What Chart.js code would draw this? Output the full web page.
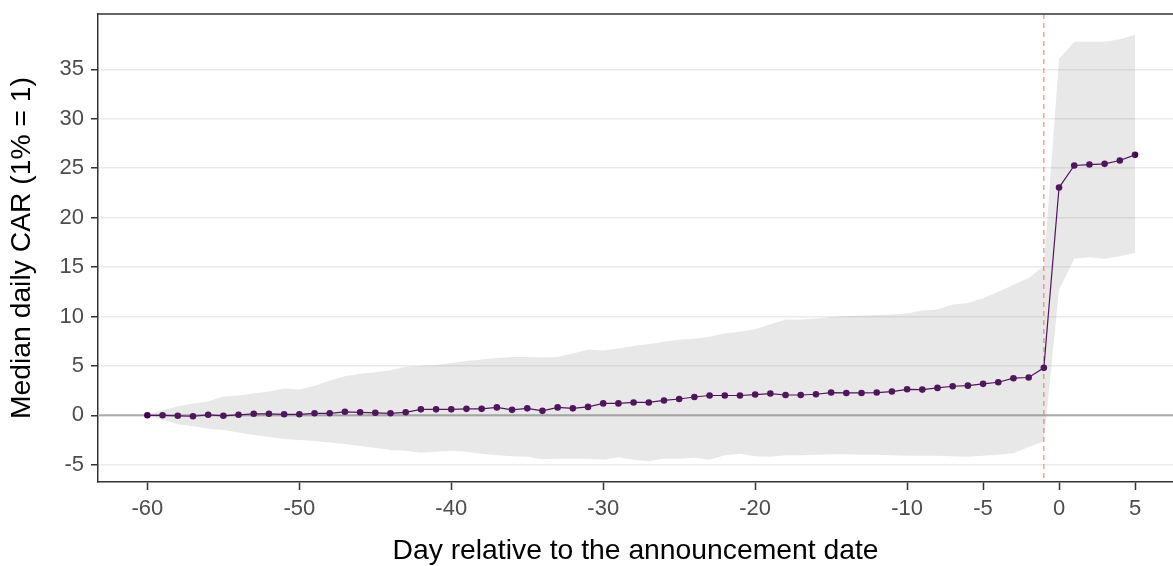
<!DOCTYPE html>
<html>
<head>
<meta charset="utf-8">
<script src="https://cdn.jsdelivr.net/npm/chart.js@4"></script>
<style>
  html, body { margin: 0; padding: 0; background: #ffffff; overflow: hidden; }
  #wrap { width: 1173px; height: 566px; }
</style>
</head>
<body>
<div id="wrap"><canvas id="car_chart"></canvas></div>
<script>
// days relative to the announcement date
const days = [-60, -59, -58, -57, -56, -55, -54, -53, -52, -51, -50, -49, -48, -47, -46, -45, -44, -43, -42, -41, -40,
    -39, -38, -37, -36, -35, -34, -33, -32, -31, -30, -29, -28, -27, -26, -25, -24, -23, -22, -21, -20, -19, -18,
    -17, -16, -15, -14, -13, -12, -11, -10, -9, -8, -7, -6, -5, -4, -3, -2, -1,
    0, 1, 2, 3, 4, 5];

const medianCar = [0, 0, -0.05, -0.1, 0.05, -0.05, 0.05, 0.15, 0.15, 0.1, 0.1, 0.2, 0.2, 0.35, 0.3, 0.25, 0.2, 0.3, 0.6, 0.6, 0.6,
    0.65, 0.65, 0.8, 0.55, 0.7, 0.45, 0.8, 0.7, 0.85, 1.2, 1.2, 1.3, 1.3, 1.5, 1.65, 1.85, 2.0, 2.0, 2.0, 2.1, 2.2, 2.05,
    2.05, 2.13, 2.3, 2.26, 2.26, 2.3, 2.4, 2.63, 2.6, 2.77, 2.94, 3.0, 3.18, 3.34, 3.75, 3.82, 4.8,
    23.04, 25.27, 25.37, 25.44, 25.78, 26.35];

const upperCar = [0.05, 0.5, 0.9, 1.2, 1.4, 1.9, 2.0, 2.2, 2.4, 2.7, 2.6, 3.0, 3.5, 3.95, 4.2, 4.35, 4.55, 4.9, 5.0, 5.1, 5.3,
    5.5, 5.65, 5.8, 5.9, 5.9, 5.85, 5.9, 6.25, 6.65, 6.55, 6.75, 7.0, 7.2, 7.45, 7.65, 7.75, 7.95, 8.3, 8.45, 8.7, 9.2, 9.7,
    9.7, 9.8, 9.95, 10.05, 10.1, 10.15, 10.2, 10.3, 10.6, 10.7, 11.2, 11.35, 11.85, 12.5, 13.2, 13.9, 15.1,
    36.05, 37.8, 37.8, 37.8, 38.05, 38.5];

const lowerCar = [0, -0.45, -0.9, -1.1, -1.35, -1.5, -1.75, -2.0, -2.2, -2.4, -2.5, -2.6, -2.75, -2.9, -3.1, -3.3, -3.5, -3.6, -3.8, -3.7, -3.6,
    -3.7, -3.9, -4.05, -4.15, -4.2, -4.45, -4.4, -4.4, -4.4, -4.5, -4.25, -4.5, -4.65, -4.4, -4.4, -4.3, -4.5, -4.05, -3.9, -4.15, -4.2, -4.05,
    -4.05, -4.0, -3.95, -3.95, -4.0, -4.0, -4.05, -4.1, -4.1, -4.1, -4.15, -4.2, -4.1, -4.0, -3.85, -3.2, -2.65,
    12.7, 15.85, 16.0, 15.85, 16.1, 16.45];

const xTicks = [-60, -50, -40, -30, -20, -10, -5, 0, 5];
const yTicks = [-5, 0, 5, 10, 15, 20, 25, 30, 35];

const eventDay = -1;
const baseline = 0;

const toPoints = (values) => days.map((d, i) => ({ x: d, y: values[i] }));

const referenceLines = {
    id: 'referenceLines',
    beforeDatasetDraw: function (chart, args) {
        if (args.index !== 2) return;
        const { ctx, chartArea, scales } = chart;
        ctx.save();
        // zero line
        const y0 = scales.y.getPixelForValue(baseline);
        ctx.strokeStyle = '#ababab';
        ctx.lineWidth = 2;
        ctx.beginPath();
        ctx.moveTo(chartArea.left, y0);
        ctx.lineTo(chartArea.right, y0);
        ctx.stroke();
        // announcement line
        const x0 = scales.x.getPixelForValue(eventDay);
        ctx.strokeStyle = '#f4948b';
        ctx.lineWidth = 1.3;
        ctx.setLineDash([5, 4]);
        ctx.beginPath();
        ctx.moveTo(x0, chartArea.top);
        ctx.lineTo(x0, chartArea.bottom);
        ctx.stroke();
        ctx.restore();
    }
};

const panelTop = {
    id: 'panelTop',
    afterDatasetsDraw: function (chart) {
        const { ctx, chartArea } = chart;
        ctx.save();
        ctx.strokeStyle = '#333333';
        ctx.lineWidth = 1.5;
        ctx.beginPath();
        ctx.moveTo(chartArea.left, chartArea.top);
        ctx.lineTo(chartArea.right, chartArea.top);
        ctx.stroke();
        ctx.restore();
    }
};

const tickFont = { family: 'Liberation Sans, Arial, sans-serif', size: 22 };
const titleFont = { family: 'Liberation Sans, Arial, sans-serif', size: 28.3 };

new Chart(document.getElementById('car_chart').getContext('2d'), {
    type: 'line',
    data: {
        datasets: [{
            data: toPoints(upperCar),
            borderWidth: 0,
            pointRadius: 0,
            fill: '+1',
            backgroundColor: 'rgba(128,128,128,0.18)',
            tension: 0
        }, {
            data: toPoints(lowerCar),
            borderWidth: 0,
            pointRadius: 0,
            fill: false,
            tension: 0
        }, {
            data: toPoints(medianCar),
            borderColor: '#440154',
            borderWidth: 1.2,
            pointRadius: 3.3,
            pointBackgroundColor: '#440154',
            pointBorderWidth: 0,
            fill: false,
            tension: 0
        }]
    },
    options: {
        animation: false,
        responsive: true,
        maintainAspectRatio: false,
        layout: {
            autoPadding: false,
            padding: { left: 0, right: 0, top: 14, bottom: 0 }
        },
        plugins: {
            legend: { display: false },
            tooltip: { enabled: false }
        },
        scales: {
            x: {
                type: 'linear',
                min: -63.25,
                max: 7.5,
                afterBuildTicks: (scale) => { scale.ticks = xTicks.map(v => ({ value: v })); },
                afterFit: (scale) => {
                    scale.height = 84;
                    scale.paddingLeft = 0;
                    scale.paddingRight = 0;
                },
                grid: {
                    drawOnChartArea: false,
                    tickLength: 8,
                    tickColor: '#333333',
                    tickWidth: 1.5
                },
                border: { color: '#333333', width: 1.5 },
                ticks: {
                    color: '#4d4d4d',
                    font: tickFont,
                    padding: 6,
                    maxRotation: 0,
                    autoSkip: false
                },
                title: {
                    display: true,
                    text: 'Day relative to the announcement date',
                    color: '#000000',
                    font: titleFont,
                    padding: { top: 0, bottom: -2 }
                }
            },
            y: {
                min: -6.75,
                max: 40.6,
                afterBuildTicks: (scale) => { scale.ticks = yTicks.map(v => ({ value: v })); },
                afterFit: (scale) => {
                    scale.width = 98;
                    scale.paddingTop = 0;
                    scale.paddingBottom = 0;
                },
                grid: {
                    color: '#ebebeb',
                    lineWidth: 1.5,
                    tickLength: 7,
                    tickColor: '#333333',
                    tickWidth: 1.5
                },
                border: { color: '#333333', width: 1.5 },
                ticks: {
                    color: '#4d4d4d',
                    font: tickFont,
                    padding: 7
                },
                title: {
                    display: true,
                    text: 'Median daily CAR (1% = 1)',
                    color: '#000000',
                    font: titleFont,
                    padding: { top: 5, bottom: 0 }
                }
            }
        }
    },
    plugins: [referenceLines, panelTop]
});
</script>
</body>
</html>
